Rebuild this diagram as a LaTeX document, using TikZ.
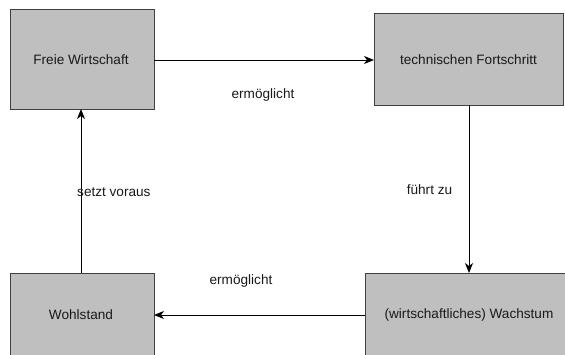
\documentclass[tikz,border=0pt]{standalone}
\usepackage{fontspec}
\setmainfont{Liberation Sans}
\usetikzlibrary{arrows.meta}
\begin{document}
\begin{tikzpicture}[x=1pt,y=-1pt,
  box/.style={draw=black!75,fill=black!25,line width=0.9pt},
  conn/.style={draw=black,line width=1pt,-{Stealth[length=10pt,width=8pt,inset=3pt]}},
  lbl/.style={inner sep=0pt},
  every node/.style={font=\fontsize{13.6}{16}\selectfont,text=black!90}]
\useasboundingbox (0,0) rectangle (565,354);
\clip (0,0) rectangle (565,354);
% boxes
\draw[box] (10,9) rectangle (154,109);
\draw[box] (374,13) rectangle (563,105);
\draw[box] (10,273) rectangle (154,373);
\draw[box] (365,273) rectangle (573,373);
\node[inner sep=0pt] (fw) at (81,60) {Freie Wirtschaft};
\node[inner sep=0pt] (tf) at (468.5,60) {technischen Fortschritt};
\node[inner sep=0pt] (wo) at (81,315) {Wohlstand};
\node[inner sep=0pt] (wa) at (469,315) {(wirtschaftliches) Wachstum};
% box edge anchors
\coordinate (fwR) at (154,60);
\coordinate (fwB) at (81,109);
\coordinate (tfL) at (374,60);
\coordinate (tfB) at (469,105);
\coordinate (woR) at (154,315);
\coordinate (woT) at (81,273);
\coordinate (waL) at (365,315);
\coordinate (waT) at (469,273);
% connectors
\draw[conn] (fwR) -- (tfL);
\draw[conn] (tfB) -- (waT);
\draw[conn] (waL) -- (woR);
\draw[conn] (woT) -- (fwB);
% labels
\node[lbl] (l1) at (263,95) {ermöglicht};
\node[lbl] (l2) at (429.5,190) {führt zu};
\node[lbl] (l3) at (241,281) {ermöglicht};
\node[lbl,anchor=west] (l4) at (77,192) {setzt voraus};
\end{tikzpicture}
\end{document}
